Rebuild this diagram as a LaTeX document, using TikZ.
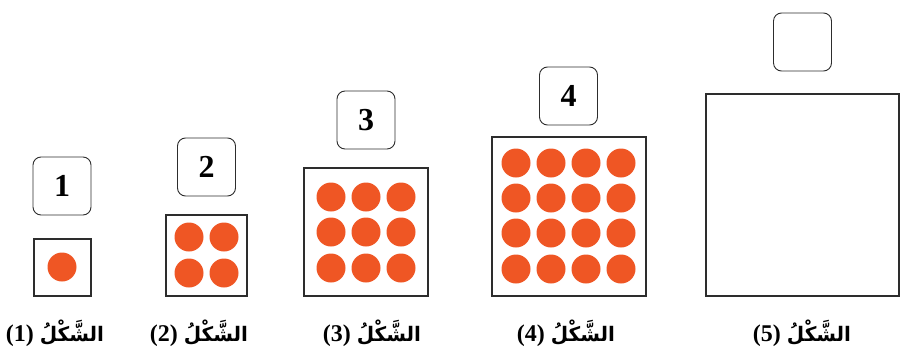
\documentclass[tikz,border=0pt]{standalone}
\usepackage{fontspec}
\newfontfamily\arabicfont[Script=Arabic]{DejaVu Sans}
\newfontfamily\digitfont{Liberation Serif}
\TeXXeTstate=1
\definecolor{dotc}{RGB}{239,86,36}
\definecolor{edge}{RGB}{45,45,45}
\tikzset{
  numbox/.style={draw=edge, line width=0.9pt, rounded corners=8pt, minimum width=58pt, minimum height=58pt, inner sep=0pt, font=\digitfont\fontsize{32}{32}\selectfont\bfseries},
  frame/.style={draw=edge, line width=1.4pt, inner sep=0pt},
  dotn/.style={circle, fill=dotc, minimum size=29pt, inner sep=0pt},
  lab/.style={inner sep=0pt}
}
\newcommand{\shakl}[1]{{\digitfont\fontsize{24}{24}\selectfont\bfseries(#1)}\hspace{6pt}{\arabicfont\fontsize{20}{20}\selectfont\bfseries\beginR الشَّكْلُ\endR}}
\begin{document}
\begin{tikzpicture}[x=1pt,y=-1pt]
\useasboundingbox (0,0) rectangle (908,362);
% number boxes
\node[numbox] (n1) at (62,186) {1};
\node[numbox] (n2) at (206.5,167) {2};
\node[numbox] (n3) at (366,120) {3};
\node[numbox] (n4) at (568.5,96) {4};
\node[numbox] (n5) at (802.5,42) {};
% frames
\node[frame, minimum width=57pt, minimum height=57pt] (f1) at (62.5,267.5) {};
\node[frame, minimum width=81pt, minimum height=81pt] (f2) at (206.5,255.5) {};
\node[frame, minimum width=124pt, minimum height=128pt] (f3) at (366,232) {};
\node[frame, minimum width=154pt, minimum height=159pt] (f4) at (569,216.5) {};
\node[frame, minimum width=193pt, minimum height=202pt] (f5) at (802.5,195) {};
% dots
\node[dotn] (d1) at (62,267) {};
\foreach \i/\x in {1/189,2/224}
  \foreach \j/\y in {1/237,2/273}
    \node[dotn] (d2-\i-\j) at (\x,\y) {};
\foreach \i/\x in {1/331,2/366,3/401}
  \foreach \j/\y in {1/197,2/232,3/268}
    \node[dotn] (d3-\i-\j) at (\x,\y) {};
\foreach \i/\x in {1/516,2/551,3/586,4/621}
  \foreach \j/\y in {1/163,2/198,3/233,4/269}
    \node[dotn] (d4-\i-\j) at (\x,\y) {};
% labels
\node[lab] (l1) at (55,333) {\shakl{1}};
\node[lab] (l2) at (199,333) {\shakl{2}};
\node[lab] (l3) at (372,333) {\shakl{3}};
\node[lab] (l4) at (566,333) {\shakl{4}};
\node[lab] (l5) at (802,333) {\shakl{5}};
\end{tikzpicture}
\end{document}
